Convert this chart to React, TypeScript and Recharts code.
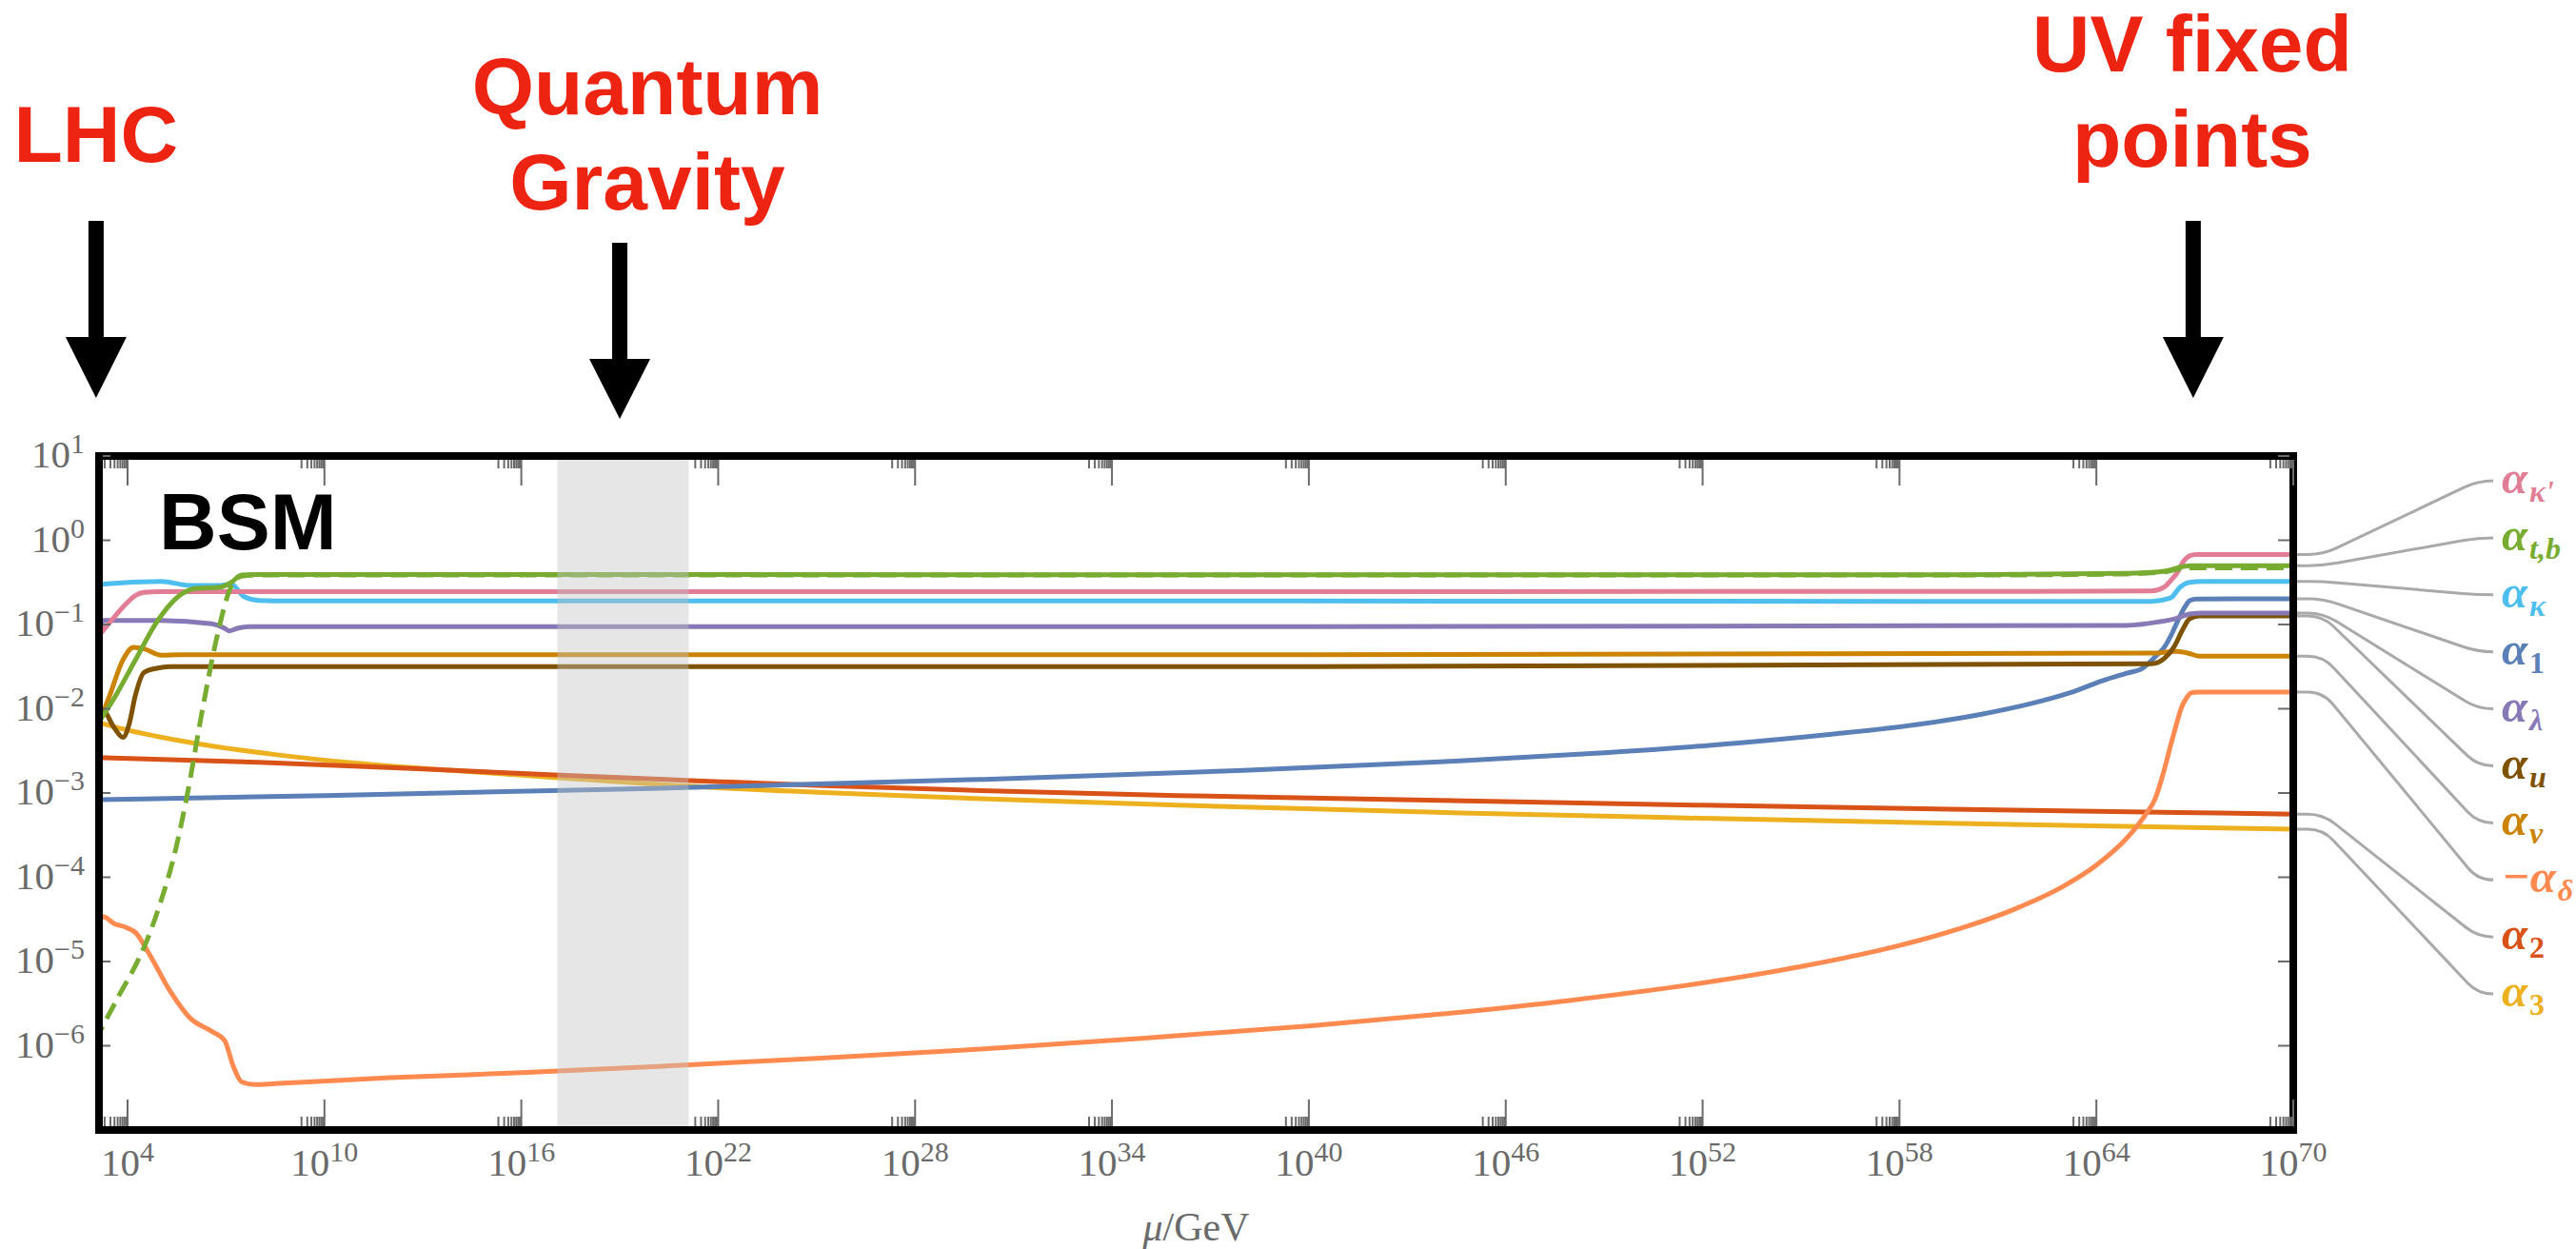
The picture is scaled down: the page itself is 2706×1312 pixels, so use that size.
import React from 'react';
import { ComposedChart, Line, XAxis, YAxis, ReferenceArea, ReferenceDot } from 'recharts';

// Each point: [log10(mu / GeV), coupling value]
type Pt = [number, number];

const alphaKappaPrime: Pt[] = [
  [3.0, 0.064], [3.47, 0.107], [3.98, 0.18], [4.25, 0.222], [4.5, 0.24], [5.0, 0.246], [20, 0.246],
  [45, 0.246], [62, 0.247], [65.68, 0.25], [66.07, 0.278], [66.26, 0.331], [66.46, 0.41],
  [66.65, 0.557], [66.84, 0.652], [67.04, 0.675], [70, 0.675],
];
const alphaTB: Pt[] = [
  [3.0, 0.0059], [3.6, 0.0135], [4.24, 0.038], [4.89, 0.107], [5.54, 0.214], [6.06, 0.267],
  [6.83, 0.278], [7.16, 0.316], [7.48, 0.387], [7.9, 0.392], [30, 0.39], [60, 0.39], [64.9, 0.404],
  [66.07, 0.43], [66.46, 0.468], [66.84, 0.5], [70, 0.5],
];
const alphaTBDashed: Pt[] = [
  [3.0, 1.12e-6], [3.27, 1.78e-6], [3.73, 3.89e-6], [4.25, 9.12e-6], [4.57, 1.7e-5], [5.02, 5.25e-5],
  [5.41, 1.74e-4], [5.79, 8.32e-4], [6.31, 0.0112], [6.7, 0.0646], [7.15, 0.278], [7.45, 0.372],
  [7.9, 0.386], [60, 0.386], [64.9, 0.398], [66.07, 0.422], [66.46, 0.452], [66.84, 0.47], [70, 0.47],
];
const alphaKappa: Pt[] = [
  [3.0, 0.214], [3.1, 0.28], [3.27, 0.303], [5.02, 0.325], [5.93, 0.29], [6.83, 0.29], [7.16, 0.303],
  [7.55, 0.214], [8.0, 0.193], [9.0, 0.19], [40, 0.19], [65.68, 0.188], [66.26, 0.206], [66.55, 0.278],
  [66.84, 0.317], [67.23, 0.324], [70, 0.324],
];
const alpha1: Pt[] = [
  [3.0, 8.32e-4], [10, 9.33e-4], [20, 1.13e-3], [30, 1.45e-3], [38, 1.85e-3], [44, 2.34e-3],
  [49, 3.0e-3], [53, 3.89e-3], [56, 5.01e-3], [58.5, 6.46e-3], [60.5, 8.61e-3], [62, 0.01148],
  [63.2, 0.0155], [64.2, 0.0216], [64.9, 0.0263], [65.4, 0.0302], [65.8, 0.0417], [66.07, 0.0537],
  [66.3, 0.0776], [66.5, 0.1148], [66.7, 0.162], [66.85, 0.193], [67.05, 0.201], [70, 0.202],
];
const alphaLambda: Pt[] = [
  [3.0, 5.9e-4], [3.13, 0.0646], [3.27, 0.112], [5.02, 0.112], [6.57, 0.102], [6.96, 0.0902],
  [7.09, 0.0841], [7.35, 0.0902], [7.74, 0.0942], [40, 0.0942], [64.9, 0.0977], [65.87, 0.107],
  [66.46, 0.119], [66.84, 0.133], [67.23, 0.137], [70, 0.137],
];
const alphaU: Pt[] = [
  [3.0, 0.0102], [3.27, 0.00955], [3.6, 0.00589], [3.86, 0.00457], [4.05, 0.0066], [4.24, 0.0145],
  [4.5, 0.0269], [4.89, 0.0302], [5.28, 0.0316], [40, 0.0316], [65.68, 0.0341], [66.07, 0.0395],
  [66.36, 0.0537], [66.65, 0.0902], [66.84, 0.117], [67.13, 0.126], [70, 0.126],
];
const alphaV: Pt[] = [
  [3.0, 0.0049], [3.46, 0.0145], [3.86, 0.038], [4.18, 0.0537], [4.51, 0.0513], [5.03, 0.0432],
  [5.6, 0.0437], [40, 0.0437], [65.68, 0.0457], [66.46, 0.0479], [66.84, 0.0452], [67.13, 0.0421],
  [70, 0.0421],
];
const minusAlphaDelta: Pt[] = [
  [3.0, 2.0e-5], [3.26, 3.39e-5], [3.59, 2.82e-5], [3.99, 2.51e-5], [4.25, 2.19e-5], [4.63, 1.29e-5],
  [5.28, 4.57e-6], [5.93, 2.09e-6], [6.57, 1.48e-6], [6.96, 1.15e-6], [7.22, 5.75e-7], [7.48, 3.72e-7],
  [7.88, 3.47e-7], [8.5, 3.55e-7], [12, 4.17e-7], [16, 4.79e-7], [20.41, 5.75e-7], [25, 7.08e-7],
  [30, 9.12e-7], [35, 1.23e-6], [40, 1.72e-6], [44, 2.37e-6], [48, 3.47e-6], [52, 5.56e-6],
  [55, 8.71e-6], [58, 1.55e-5], [60, 2.57e-5], [61.5, 4.17e-5], [63, 7.82e-5], [64, 1.39e-4],
  [65, 3.13e-4], [65.5, 5.56e-4], [65.8, 8.71e-4], [66.05, 1.78e-3], [66.26, 3.63e-3], [66.45, 6.76e-3],
  [66.6, 0.0105], [66.75, 0.0135], [66.9, 0.0155], [67.1, 0.0158], [70, 0.0158],
];
const alpha2: Pt[] = [
  [3.0, 2.63e-3], [8, 2.32e-3], [13, 1.93e-3], [17, 1.64e-3], [20.41, 1.445e-3], [25, 1.23e-3],
  [30, 1.07e-3], [36, 9.33e-4], [43.63, 8.22e-4], [52, 7.16e-4], [61, 6.31e-4], [70, 5.62e-4],
];
const alpha3: Pt[] = [
  [3.0, 7.08e-3], [4, 5.58e-3], [5, 4.61e-3], [6.5, 3.65e-3], [8.5, 2.86e-3], [11, 2.25e-3],
  [14, 1.84e-3], [17, 1.53e-3], [20.41, 1.245e-3], [25, 1.02e-3], [30, 8.57e-4], [36, 7.16e-4],
  [43.63, 5.93e-4], [52, 5.01e-4], [61, 4.27e-4], [70, 3.72e-4],
];

// Axis ticks
const MAJOR_X = [4, 10, 16, 22, 28, 34, 40, 46, 52, 58, 64, 70];
const MINOR_MULT = [2, 3, 4, 5, 6, 7, 8, 9];
const Y_TICKS = [1e1, 1e0, 1e-1, 1e-2, 1e-3, 1e-4, 1e-5, 1e-6];
const Y_TICK_EXP = ['1', '0', '−1', '−2', '−3', '−4', '−5', '−6'];

// Annotations (x in log10 mu/GeV)
const QG_BAND: [number, number] = [17.1, 21.1];
const LHC_X = 3.04;
const QG_X = 19;
const UV_X = 66.95;

const X_DOMAIN: [number, number] = [3.13, 70];
const Y_DOMAIN: [number, number] = [1e-7, 10];

const MINOR_X = MAJOR_X.flatMap((n) => MINOR_MULT.map((k) => n - 1 + Math.log10(k)));
const X_TICKS = [...MINOR_X, ...MAJOR_X].sort((a, b) => a - b);

const FONT_SERIF = '"Liberation Serif", "DejaVu Serif", serif';
const FONT_SANS = '"Liberation Sans", Arial, sans-serif';
const GRAY = '#6a6a6a';
const RED = '#EE2412';

type Series = {
  id: string;
  data: Pt[];
  color: string;
  dashed?: boolean;
  pre?: string;
  sub?: string;
  subItalic?: boolean;
};

const S_KP: Series = { id: 'kp', data: alphaKappaPrime, color: '#E27D96', sub: "κ'", subItalic: true };
const S_TB: Series = { id: 'tb', data: alphaTB, color: '#77AC30', sub: 't,b', subItalic: true };
const S_TBD: Series = { id: 'tbd', data: alphaTBDashed, color: '#77AC30', dashed: true };
const S_K: Series = { id: 'k', data: alphaKappa, color: '#4DBEEE', sub: 'κ', subItalic: true };
const S_1: Series = { id: 'a1', data: alpha1, color: '#5B80B8', sub: '1', subItalic: false };
const S_L: Series = { id: 'lam', data: alphaLambda, color: '#8779B5', sub: 'λ', subItalic: true };
const S_U: Series = { id: 'u', data: alphaU, color: '#7F5200', sub: 'u', subItalic: true };
const S_V: Series = { id: 'v', data: alphaV, color: '#CC8400', sub: 'v', subItalic: true };
const S_D: Series = { id: 'd', data: minusAlphaDelta, color: '#FF8A50', pre: '−', sub: 'δ', subItalic: true };
const S_2: Series = { id: 'a2', data: alpha2, color: '#D95319', sub: '2', subItalic: false };
const S_3: Series = { id: 'a3', data: alpha3, color: '#EDB120', sub: '3', subItalic: false };

const DRAW_ORDER: Series[] = [S_3, S_2, S_D, S_1, S_V, S_U, S_L, S_K, S_KP, S_TBD, S_TB];
const LABEL_ORDER: Series[] = [S_KP, S_TB, S_K, S_1, S_L, S_U, S_V, S_D, S_2, S_3];

const LABEL_Y0 = 505;
const LABEL_STEP = 59.9;

function XTickBottom(props: any) {
  const { x, y, payload } = props;
  const v = payload.value as number;
  const major = MAJOR_X.includes(v);
  return (
    <g>
      <line x1={x} x2={x} y1={y - 4} y2={y - (major ? 32 : 14)} stroke={GRAY} strokeWidth={2} />
      {major && (
        <text x={x} y={y + 48} textAnchor="middle" fill={GRAY} fontFamily={FONT_SERIF} fontSize={41}>
          10
          <tspan dy={-15} fontSize={30}>
            {v}
          </tspan>
        </text>
      )}
    </g>
  );
}

function XTickTop(props: any) {
  const { x, y, payload } = props;
  const major = MAJOR_X.includes(payload.value);
  return <line x1={x} x2={x} y1={y + 4} y2={y + (major ? 31 : 13)} stroke={GRAY} strokeWidth={2} />;
}

function YTickLeft(props: any) {
  const { x, y, payload } = props;
  const i = Y_TICKS.indexOf(payload.value);
  return (
    <g>
      <line x1={x + 4} x2={x + 12} y1={y} y2={y} stroke={GRAY} strokeWidth={2} />
      <text x={x - 15} y={y + 12} textAnchor="end" fill={GRAY} fontFamily={FONT_SERIF} fontSize={41}>
        10
        <tspan dy={-15} fontSize={30}>
          {Y_TICK_EXP[i]}
        </tspan>
      </text>
    </g>
  );
}

function YTickRight(props: any) {
  const { x, y } = props;
  return <line x1={x - 4} x2={x - 16} y1={y} y2={y} stroke={GRAY} strokeWidth={2} />;
}

function Leader(props: any) {
  const { cx, cy, idx, s } = props;
  const ty = LABEL_Y0 + idx * LABEL_STEP;
  const x0 = cx + 4;
  const xa = cx + 31;
  const xb = cx + 194;
  const x3 = cx + 210;
  const dx = xb - xa;
  const dy = ty - cy;
  const len = Math.hypot(dx, dy);
  const r = 16;
  const ux = dx / len;
  const uy = dy / len;
  const d = `M${x0},${cy} L${xa - r},${cy} Q${xa},${cy} ${xa + r * ux},${cy + r * uy} L${xb - r * ux},${ty - r * uy} Q${xb},${ty} ${xb + r},${ty} L${x3},${ty}`;
  return (
    <g>
      <path d={d} fill="none" stroke="#a9a9a9" strokeWidth={3} />
      <text
        x={cx + 219}
        y={ty + 13}
        fill={s.color}
        fontFamily={FONT_SERIF}
        fontWeight="bold"
        fontStyle="italic"
        fontSize={49}
      >
        {s.pre || ''}α
        <tspan dx={2} dy={9} fontSize={32} fontStyle={s.subItalic ? 'italic' : 'normal'}>
          {s.sub}
        </tspan>
      </text>
    </g>
  );
}

function Arrow(props: any) {
  const { cx, cy, shaftTop, headBase, tip, lines, textDx, baselines } = props;
  return (
    <g>
      <rect x={cx - 8} y={cy - shaftTop} width={16} height={shaftTop - headBase} fill="#000" />
      <polygon points={`${cx - 32},${cy - headBase} ${cx + 32},${cy - headBase} ${cx},${cy - tip}`} fill="#000" />
      {lines.map((t: string, i: number) => (
        <text
          key={i}
          x={cx + textDx}
          y={cy - baselines[i]}
          textAnchor="middle"
          fill={RED}
          fontFamily={FONT_SANS}
          fontWeight="bold"
          fontSize={84}
        >
          {t}
        </text>
      ))}
    </g>
  );
}

function BSMLabel(props: any) {
  const { cx, cy } = props;
  return (
    <text x={cx + 63} y={cy + 98} fill="#000" fontFamily={FONT_SANS} fontWeight="bold" fontSize={84}>
      BSM
    </text>
  );
}

function AxisTitle(props: any) {
  const vb = props.viewBox || { x: 104, y: 1187, width: 2305, height: 125 };
  return (
    <text x={vb.x + vb.width / 2} y={vb.y + 116} textAnchor="middle" fill={GRAY} fontFamily={FONT_SERIF} fontSize={42}>
      <tspan fontStyle="italic">μ</tspan>/GeV
    </text>
  );
}

export default function App() {
  return (
    <div style={{ position: 'absolute', left: 0, top: 0, width: 2706, height: 1312, background: '#fff' }}>
      <ComposedChart width={2706} height={1312} margin={{ top: 0, right: 0, bottom: 0, left: 0 }}>
        <XAxis
          xAxisId="b"
          dataKey="x"
          type="number"
          domain={X_DOMAIN}
          allowDataOverflow
          ticks={X_TICKS}
          interval={0}
          height={125}
          axisLine={false}
          tickLine={false}
          tickSize={0}
          tickMargin={0}
          tick={(p: any) => <XTickBottom {...p} />}
          label={(p: any) => <AxisTitle {...p} />}
        />
        <XAxis
          xAxisId="t"
          orientation="top"
          dataKey="x"
          type="number"
          domain={X_DOMAIN}
          allowDataOverflow
          ticks={X_TICKS}
          interval={0}
          height={479}
          axisLine={false}
          tickLine={false}
          tickSize={0}
          tickMargin={0}
          tick={(p: any) => <XTickTop {...p} />}
        />
        <YAxis
          yAxisId="l"
          type="number"
          scale="log"
          domain={Y_DOMAIN}
          allowDataOverflow
          ticks={Y_TICKS}
          interval={0}
          width={104}
          axisLine={false}
          tickLine={false}
          tickSize={0}
          tickMargin={0}
          tick={(p: any) => <YTickLeft {...p} />}
        />
        <YAxis
          yAxisId="r"
          orientation="right"
          type="number"
          scale="log"
          domain={Y_DOMAIN}
          allowDataOverflow
          ticks={Y_TICKS}
          interval={0}
          width={297}
          axisLine={false}
          tickLine={false}
          tickSize={0}
          tickMargin={0}
          tick={(p: any) => <YTickRight {...p} />}
        />

        {DRAW_ORDER.map((s) => (
          <Line
            key={s.id}
            xAxisId="b"
            yAxisId="l"
            data={s.data.map(([x, y]) => ({ x, y }))}
            dataKey="y"
            type="monotone"
            stroke={s.color}
            strokeWidth={5}
            strokeDasharray={s.dashed ? '18 9' : undefined}
            dot={false}
            activeDot={false}
            isAnimationActive={false}
          />
        ))}

        <ReferenceArea
          xAxisId="b"
          yAxisId="l"
          x1={QG_BAND[0]}
          x2={QG_BAND[1]}
          y1={Y_DOMAIN[0]}
          y2={Y_DOMAIN[1]}
          fill="#c4c4c4"
          fillOpacity={0.42}
          stroke="none"
          zIndex={450}
        />
        <ReferenceArea
          xAxisId="b"
          yAxisId="l"
          x1={X_DOMAIN[0]}
          x2={X_DOMAIN[1]}
          y1={Y_DOMAIN[0]}
          y2={Y_DOMAIN[1]}
          fill="none"
          stroke="#000"
          strokeWidth={8}
          zIndex={600}
        />

        <ReferenceDot
          xAxisId="b"
          yAxisId="l"
          x={X_DOMAIN[0]}
          y={Y_DOMAIN[1]}
          ifOverflow="visible"
          zIndex={700}
          shape={(p: any) => <BSMLabel {...p} />}
        />
        <ReferenceDot
          xAxisId="b"
          yAxisId="l"
          x={LHC_X}
          y={Y_DOMAIN[1]}
          ifOverflow="visible"
          zIndex={700}
          shape={(p: any) => (
            <Arrow {...p} shaftTop={247} headBase={125} tip={61} lines={['LHC']} textDx={0} baselines={[309]} />
          )}
        />
        <ReferenceDot
          xAxisId="b"
          yAxisId="l"
          x={QG_X}
          y={Y_DOMAIN[1]}
          ifOverflow="visible"
          zIndex={700}
          shape={(p: any) => (
            <Arrow
              {...p}
              shaftTop={224}
              headBase={102}
              tip={39}
              lines={['Quantum', 'Gravity']}
              textDx={29}
              baselines={[359, 259]}
            />
          )}
        />
        <ReferenceDot
          xAxisId="b"
          yAxisId="l"
          x={UV_X}
          y={Y_DOMAIN[1]}
          ifOverflow="visible"
          zIndex={700}
          shape={(p: any) => (
            <Arrow
              {...p}
              shaftTop={247}
              headBase={125}
              tip={61}
              lines={['UV fixed', 'points']}
              textDx={-1}
              baselines={[404, 304]}
            />
          )}
        />

        {LABEL_ORDER.map((s, i) => {
          const last = s.data[s.data.length - 1];
          return (
            <ReferenceDot
              key={'lab-' + s.id}
              xAxisId="b"
              yAxisId="l"
              x={last[0]}
              y={last[1]}
              ifOverflow="visible"
              zIndex={700}
              shape={(p: any) => <Leader {...p} idx={i} s={s} />}
            />
          );
        })}
      </ComposedChart>
    </div>
  );
}
